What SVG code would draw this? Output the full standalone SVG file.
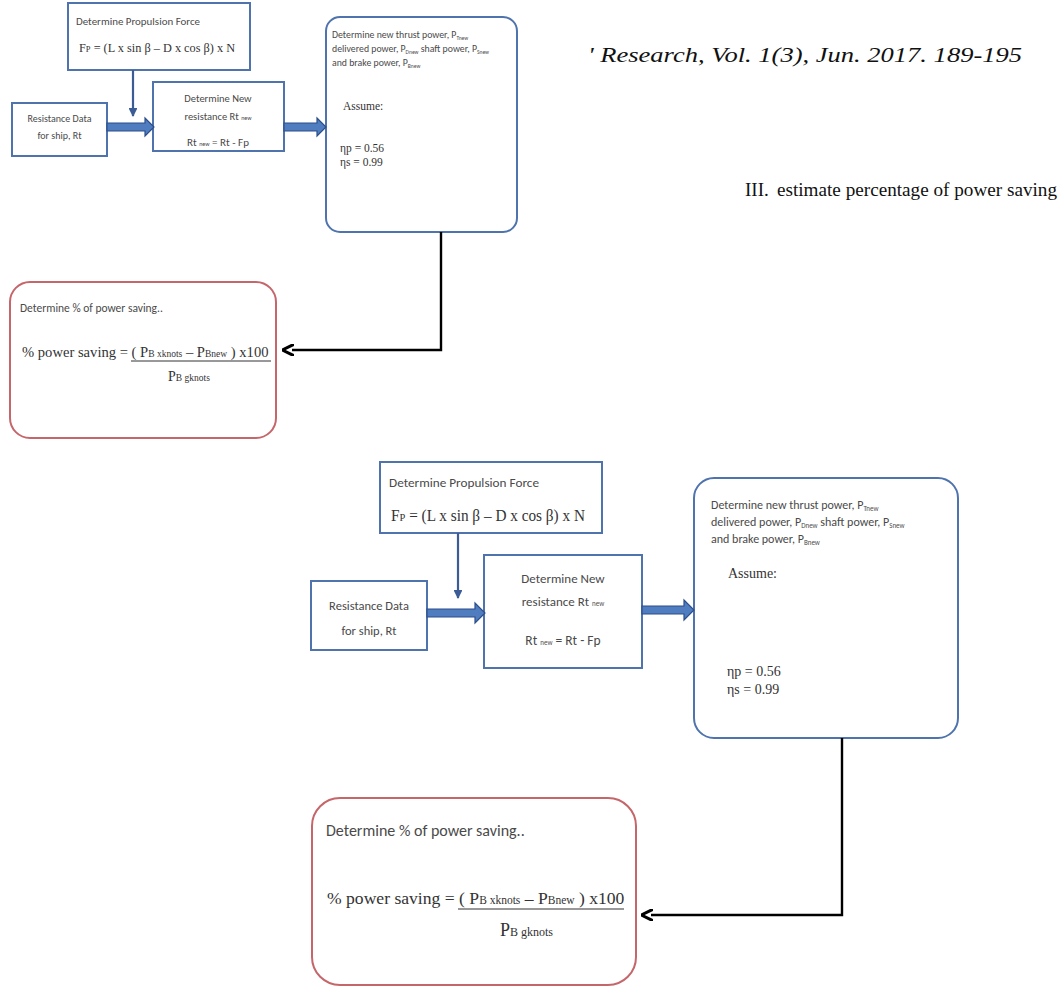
<svg xmlns="http://www.w3.org/2000/svg" width="1060" height="986" viewBox="0 0 1060 986">
<defs>
<style>
.box{fill:#fff;stroke:#4f74ad;stroke-width:2}
.rbox{fill:#fff;stroke:#c5666b;stroke-width:2}
.lbl{font-family:Carlito,Lato,"Liberation Sans",sans-serif;fill:#4a4a4a}
.ser{font-family:"Liberation Serif","Times New Roman",serif;fill:#333}
.rt{font-family:"Liberation Serif","Times New Roman",serif;fill:#111}
.blk{fill:#4f7dbf;stroke:#2c4f8a;stroke-width:1.2}
.thin{fill:none;stroke:#3b5c94;stroke-width:2.2}
.con{fill:none;stroke:#000;stroke-width:2.4}
</style>
<marker id="hb" viewBox="0 0 10 10" refX="9" refY="5" markerWidth="4" markerHeight="4" orient="auto"><path d="M0,0 L10,5 L0,10 z" fill="#3b5c94"/></marker>
<marker id="hk" viewBox="0 0 10 10" refX="2" refY="5" markerWidth="5" markerHeight="5" orient="auto"><path d="M0,0 L10,5 L0,10" fill="none" stroke="#000" stroke-width="2.5"/></marker>
</defs>
<rect width="1060" height="986" fill="#fff"/>

<!-- page text -->
<text class="rt" x="588" y="62" font-size="21" font-style="italic" textLength="434" lengthAdjust="spacingAndGlyphs">' Research, Vol. 1(3), Jun. 2017. 189-195</text>
<text class="rt" x="745" y="196" font-size="19">III.</text>
<text class="rt" x="777" y="196" font-size="19" textLength="280" lengthAdjust="spacingAndGlyphs">estimate percentage of power saving</text>

<!-- TOP DIAGRAM -->
<g id="t-propulsion">
<rect class="box" x="68" y="3" width="182" height="67"/>
<text class="lbl" x="76" y="25" font-size="10.5" textLength="124" lengthAdjust="spacingAndGlyphs">Determine Propulsion  Force</text>
<text class="ser" x="79" y="52" font-size="13" textLength="156" lengthAdjust="spacingAndGlyphs">F<tspan font-size="9">P</tspan> = (L x sin β – D x cos β) x N</text>
</g>
<g id="t-resistance">
<rect class="box" x="12" y="103" width="95" height="53"/>
<text class="lbl" x="59.5" y="122" font-size="10" text-anchor="middle">Resistance Data</text>
<text class="lbl" x="59.5" y="139" font-size="10" text-anchor="middle">for ship, Rt</text>
</g>
<g id="t-newres">
<rect class="box" x="153" y="82" width="131" height="69"/>
<text class="lbl" x="218" y="102" font-size="10.5" text-anchor="middle">Determine New</text>
<text class="lbl" x="218" y="120" font-size="10.5" text-anchor="middle">resistance Rt <tspan font-size="6">new</tspan></text>
<text class="lbl" x="218" y="146" font-size="11" text-anchor="middle">Rt <tspan font-size="6">new</tspan> = Rt - Fp</text>
</g>
<g id="t-power">
<rect class="box" x="326" y="17" width="191" height="215" rx="14"/>
<text class="lbl" x="332" y="38" font-size="9.8">Determine new  thrust power, P<tspan font-size="5.5" dy="2">Tnew</tspan></text>
<text class="lbl" x="332" y="52" font-size="9.8">delivered power, P<tspan font-size="5.5" dy="2">Dnew</tspan><tspan dy="-2"> shaft power, P</tspan><tspan font-size="5.5" dy="2">Snew</tspan></text>
<text class="lbl" x="332" y="66" font-size="9.8">and brake power, P<tspan font-size="5.5" dy="2">Bnew</tspan></text>
<text class="ser" x="343" y="110" font-size="11.5">Assume:</text>
<text class="ser" x="340" y="152" font-size="11.5">ηp = 0.56</text>
<text class="ser" x="340" y="166" font-size="11.5">ηs = 0.99</text>
</g>
<g id="t-saving">
<rect class="rbox" x="10" y="282" width="266" height="156" rx="20"/>
<text class="lbl" x="20" y="312" font-size="11.5">Determine % of power saving..</text>
<text class="ser" x="22" y="357" font-size="14.6">% power saving = ( P<tspan font-size="9.5">B xknots</tspan>  –  P<tspan font-size="9.5">Bnew</tspan> ) x100</text>
<line x1="131" y1="361" x2="271" y2="361" stroke="#333" stroke-width="1"/>
<text class="ser" x="168" y="381" font-size="14">P<tspan font-size="9.5">B gknots</tspan></text>
</g>
<g id="t-connectors">
<path class="thin" d="M133 70 V116" marker-end="url(#hb)"/>
<path class="blk" d="M107 123 H145 V118 L154 127 L145 136 V131 H107 Z"/>
<path class="blk" d="M284 123 H317 V118 L326 127 L317 136 V131 H284 Z"/>
<path class="con" d="M441 232 V350 H292" marker-end="url(#hk)"/>
</g>

<!-- BOTTOM DIAGRAM -->
<g id="b-propulsion">
<rect class="box" x="380" y="462" width="222" height="71"/>
<text class="lbl" x="389" y="487" font-size="13" textLength="150" lengthAdjust="spacingAndGlyphs">Determine Propulsion  Force</text>
<text class="ser" x="391" y="521" font-size="16" textLength="194" lengthAdjust="spacingAndGlyphs">F<tspan font-size="11">P</tspan> = (L x sin β – D x cos β) x N</text>
</g>
<g id="b-resistance">
<rect class="box" x="311" y="581" width="116" height="69"/>
<text class="lbl" x="369" y="610" font-size="12.5" text-anchor="middle">Resistance Data</text>
<text class="lbl" x="369" y="635" font-size="12.5" text-anchor="middle">for ship, Rt</text>
</g>
<g id="b-newres">
<rect class="box" x="484" y="555" width="158" height="113"/>
<text class="lbl" x="563" y="583" font-size="13" text-anchor="middle">Determine New</text>
<text class="lbl" x="563" y="606" font-size="13" text-anchor="middle">resistance Rt <tspan font-size="7">new</tspan></text>
<text class="lbl" x="563" y="645" font-size="13.5" text-anchor="middle">Rt <tspan font-size="7">new</tspan> = Rt - Fp</text>
</g>
<g id="b-power">
<rect class="box" x="694" y="478" width="264" height="260" rx="20"/>
<text class="lbl" x="711" y="509" font-size="12">Determine new  thrust power, P<tspan font-size="7" dy="2">Tnew</tspan></text>
<text class="lbl" x="711" y="526" font-size="12">delivered power, P<tspan font-size="7" dy="2">Dnew</tspan><tspan dy="-2"> shaft power, P</tspan><tspan font-size="7" dy="2">Snew</tspan></text>
<text class="lbl" x="711" y="543" font-size="12">and brake power, P<tspan font-size="7" dy="2">Bnew</tspan></text>
<text class="ser" x="728" y="578" font-size="14">Assume:</text>
<text class="ser" x="727" y="676" font-size="14">ηp = 0.56</text>
<text class="ser" x="727" y="694" font-size="14">ηs = 0.99</text>
</g>
<g id="b-saving">
<rect class="rbox" x="312" y="798" width="324" height="187" rx="28"/>
<text class="lbl" x="326" y="836" font-size="16">Determine % of power saving..</text>
<text class="ser" x="327" y="904" font-size="17.6">% power saving = ( P<tspan font-size="11.5">B xknots</tspan>  –  P<tspan font-size="11.5">Bnew</tspan> ) x100</text>
<line x1="458" y1="909" x2="624" y2="909" stroke="#333" stroke-width="1.2"/>
<text class="ser" x="500" y="936" font-size="18">P<tspan font-size="12">B gknots</tspan></text>
</g>
<g id="b-connectors">
<path class="thin" d="M458 533 V598" marker-end="url(#hb)"/>
<path class="blk" d="M427 609 H475 V603 L485 613 L475 623 V617 H427 Z"/>
<path class="blk" d="M642 606 H684 V600 L694 610 L684 620 V614 H642 Z"/>
<path class="con" d="M842 738 V915 H651" marker-end="url(#hk)"/>
</g>
</svg>
